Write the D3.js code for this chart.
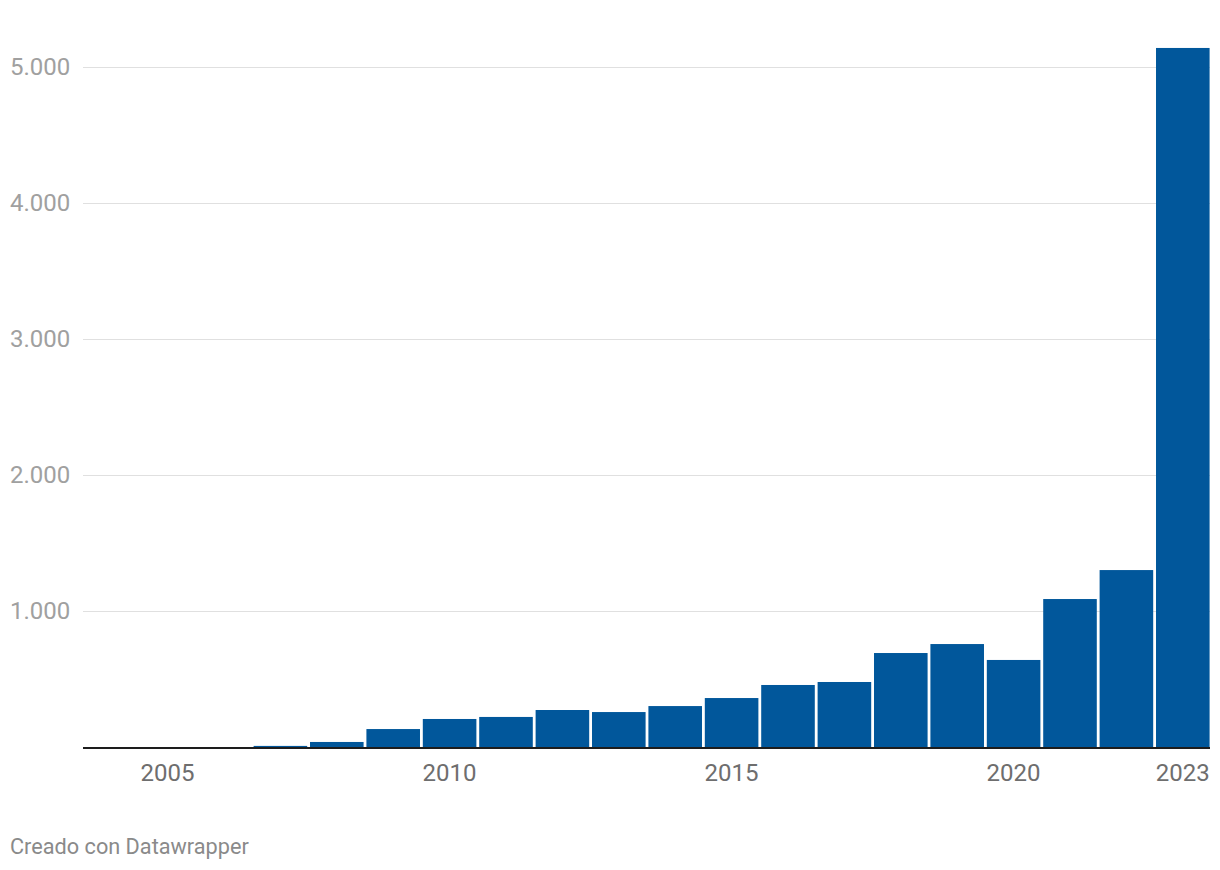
<!DOCTYPE html>
<html><head><meta charset="utf-8">
<script src="https://cdn.jsdelivr.net/npm/d3@7"></script>
<style>
body{margin:0;background:#fff;}
text{font-family:Roboto,"Noto Sans",sans-serif;}
</style></head>
<body><svg id="c" width="1220" height="870"></svg>
<script>
const years = [2004,2005,2006,2007,2008,2009,2010,2011,2012,2013,2014,2015,2016,2017,2018,2019,2020,2021,2022,2023];
const values = [0,0,0,8,37,132,206,221,272,257,301,360,456,478,691,757,640,1088,1301,5140];
const yTicks = [1000,2000,3000,4000,5000];
const xTickLabels = [2005,2010,2015,2020,2023];

(function(){
const svg = d3.select("#c");
const mLeft = 83, mRight = 1211, mTop = 67, mBottom = 747;
const x = d3.scaleBand().domain(years).range([mLeft, mRight]).paddingInner(0.05).paddingOuter(0.025);
const y = d3.scaleLinear().domain([0,5000]).range([mBottom, mTop]);

const fmt = d => d3.format(",")(d).replace(/,/g, ".");

svg.append("g").selectAll("line").data(yTicks).join("line")
  .attr("x1", mLeft).attr("x2", mRight-1)
  .attr("y1", d => Math.round(y(d))+0.5).attr("y2", d => Math.round(y(d))+0.5)
  .attr("stroke", "#e0e0e0").attr("stroke-width", 1);

svg.append("g").selectAll("text").data(yTicks).join("text")
  .attr("x", 10).attr("y", d => y(d)).attr("dy", "0.35em")
  .attr("font-size", 24).attr("fill", "#a0a0a0").text(fmt);

svg.append("g").selectAll("rect").data(years).join("rect")
  .attr("x", d => x(d)).attr("width", x.bandwidth())
  .attr("y", (d,i) => y(values[i])).attr("height", (d,i) => mBottom - y(values[i]))
  .attr("fill", "#01579b");

svg.append("line").attr("x1", mLeft).attr("x2", mRight-1)
  .attr("y1", mBottom+1).attr("y2", mBottom+1)
  .attr("stroke", "#1d1d1d").attr("stroke-width", 2);

svg.append("g").selectAll("text").data(xTickLabels).join("text")
  .attr("x", d => x(d) + x.bandwidth()/2).attr("y", 773).attr("dy", "0.35em")
  .attr("text-anchor", "middle").attr("font-size", 24).attr("fill", "#6e6e6e").text(d => d);

svg.append("text").attr("x", 10).attr("y", 846).attr("dy", "0.35em")
  .attr("font-size", 21.7).attr("fill", "#8a8a8a").text("Creado con Datawrapper");
})();
</script></body></html>
